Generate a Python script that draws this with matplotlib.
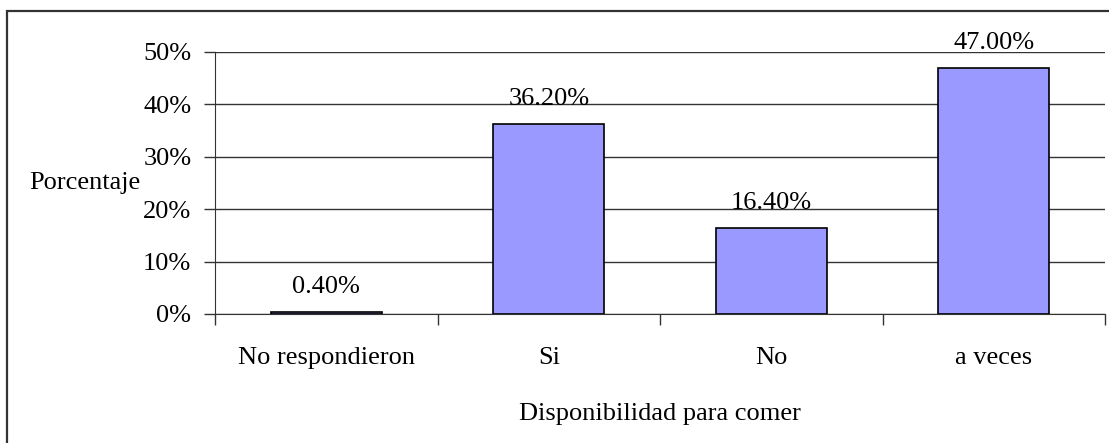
import numpy as np
import matplotlib
matplotlib.use("Agg")
import matplotlib.pyplot as plt
from matplotlib.patches import Rectangle

categories = ["No respondieron", "Si", "No", "a veces"]
values = [0.40, 36.20, 16.40, 47.00]
yticks = [0, 10, 20, 30, 40, 50]

plt.rcParams['font.family'] = ['Liberation Serif', 'DejaVu Serif']
plt.rcParams['font.size'] = 19

fig = plt.figure(figsize=(11.09, 4.43), dpi=100)
ax = fig.add_axes([215/1109, 1 - 314/443, (1105 - 215)/1109, (314 - 52)/443])

x = np.arange(len(categories))
ax.bar(x, values, width=0.5, color="#9999FF", edgecolor="black", linewidth=1.2, zorder=3)

for xi, v in zip(x, values):
    ax.annotate(f"{v:.2f}%", (xi, v), xytext=(0, 10), textcoords="offset points",
                ha="center", va="bottom", fontsize=19)

ax.set_xlim(-0.5, len(categories) - 0.5)
ax.set_ylim(0, 50)
ax.set_yticks(yticks)
ax.set_yticklabels([f"{t}%" for t in yticks])
ax.yaxis.grid(True, color="#333333", linewidth=1.0)
ax.set_axisbelow(True)

ax.set_xticks(x)
ax.set_xticklabels(categories)
ax.set_xticks(np.arange(len(categories) + 1) - 0.5, minor=True)
ax.tick_params(axis="x", which="major", length=0, pad=24)
ax.tick_params(axis="x", which="minor", length=8, width=1, color="#333333")
ax.tick_params(axis="y", length=8, width=1, color="#333333", pad=9)

for s in ["top", "right"]:
    ax.spines[s].set_visible(False)
ax.spines["left"].set_color("#333333")
ax.spines["bottom"].set_color("#333333")

ax.set_xlabel("Disponibilidad para comer", labelpad=24)
ax.set_ylabel("Porcentaje", rotation=0, ha="left", va="center")
ax.yaxis.set_label_coords((29 - 215) / (1105 - 215), 0.5)

# outer frame (only left and top edges visible in the picture)
fig.patches.append(Rectangle((7/1109, -0.05), 1.1, 1 - 11/443 + 0.05, transform=fig.transFigure,
                             fill=False, edgecolor="#333333", linewidth=1.6))

fig.savefig("out.png", dpi=100)
